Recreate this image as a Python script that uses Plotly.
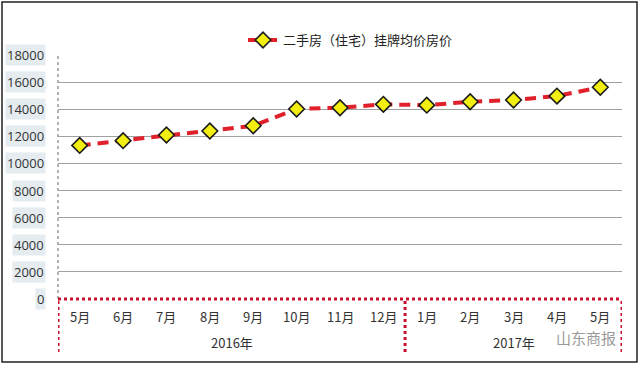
import plotly.graph_objects as go

months = ["5月", "6月", "7月", "8月", "9月", "10月", "11月", "12月",
          "1月", "2月", "3月", "4月", "5月"]
years = ["2016年", "2017年"]
year_spans = [(0, 7), (8, 12)]
prices = [11330, 11680, 12100, 12390, 12780, 14020, 14110, 14360,
          14300, 14550, 14680, 14970, 15620]
y_ticks = [0, 2000, 4000, 6000, 8000, 10000, 12000, 14000, 16000, 18000]
series_name = "二手房（住宅）挂牌均价房价"

W, H = 640, 365
L, R, T, B = 58, 18, 55, 66
pw, ph = W - L - R, H - T - B

def px_x(p):
    return (p - L) / pw

def px_y(p):
    return (H - B - p) / ph

idx = list(range(len(months)))
CJK = "Noto Sans CJK SC, Open Sans, sans-serif"

fig = go.Figure()
fig.add_trace(go.Scatter(
    x=idx, y=prices, mode="lines+markers", name=series_name,
    line=dict(color="#e0202a", width=4, dash="11px,7px"),
    marker=dict(symbol="diamond", size=12, color="#f2ee12",
                line=dict(color="#1a1a1a", width=1.6)),
    showlegend=True,
))

annotations = []
for v in y_ticks:
    annotations.append(dict(
        x=px_x(46), xref="paper", y=v, yref="y", text=str(v),
        showarrow=False, xanchor="right", yanchor="middle",
        font=dict(family="Open Sans, sans-serif", size=13, color="#333333"),
        bgcolor="#e4ecef", borderpad=1,
    ))
for i, m in enumerate(months):
    annotations.append(dict(
        x=i, xref="x", y=px_y(316), yref="paper", text=m,
        showarrow=False, xanchor="center", yanchor="middle",
        font=dict(family=CJK, size=13, color="#333333"),
    ))
for yname, (a, b) in zip(years, year_spans):
    annotations.append(dict(
        x=(a + b) / 2, xref="x", y=px_y(342), yref="paper", text=yname,
        showarrow=False, xanchor="center", yanchor="middle",
        font=dict(family=CJK, size=13, color="#333333"),
    ))
annotations.append(dict(
    x=px_x(618), xref="paper", y=px_y(337), yref="paper", text="山东商报",
    showarrow=False, xanchor="right", yanchor="middle",
    font=dict(family=CJK, size=15, color="#9a9a9a"),
))

red = "#c8102e"
shapes = [
    dict(type="rect", xref="paper", yref="paper",
         x0=px_x(2), x1=px_x(637), y0=px_y(362), y1=px_y(2),
         line=dict(color="#222222", width=1.5), layer="below"),
    dict(type="line", xref="paper", yref="paper",
         x0=0, x1=0, y0=0, y1=1,
         line=dict(color="#999999", width=1.5, dash="dot")),
    dict(type="line", xref="paper", yref="paper",
         x0=0, x1=1, y0=0, y1=0,
         line=dict(color=red, width=3, dash="dot")),
]
for xv in [-0.5, 7.5, 12.5]:
    shapes.append(dict(type="line", xref="x", yref="paper",
                       x0=xv, x1=xv, y0=px_y(352), y1=0,
                       line=dict(color=red, width=3, dash="dot")))

fig.update_layout(
    width=W, height=H,
    margin=dict(l=L, r=R, t=T, b=B, autoexpand=False),
    paper_bgcolor="white", plot_bgcolor="white",
    xaxis=dict(range=[-0.5, 12.5], showgrid=False, zeroline=False,
               showticklabels=False, showline=False, fixedrange=True),
    yaxis=dict(range=[0, 18000], tickvals=y_ticks, showticklabels=False,
               showgrid=True, gridcolor="#a0a0a0", gridwidth=1,
               zeroline=False, showline=False, fixedrange=True),
    legend=dict(x=px_x(243), y=px_y(40), xanchor="left", yanchor="middle",
                orientation="h", bgcolor="rgba(0,0,0,0)",
                font=dict(family=CJK, size=13, color="#222222")),
    annotations=annotations, shapes=shapes,
    showlegend=True,
)

fig.write_html("out.html", config={"displayModeBar": False})
with open("out.html", encoding="utf-8") as f:
    html = f.read()
html = html.replace("<head>", "<head><style>html,body{margin:0;padding:0;overflow:hidden}</style>", 1)
with open("out.html", "w", encoding="utf-8") as f:
    f.write(html)
